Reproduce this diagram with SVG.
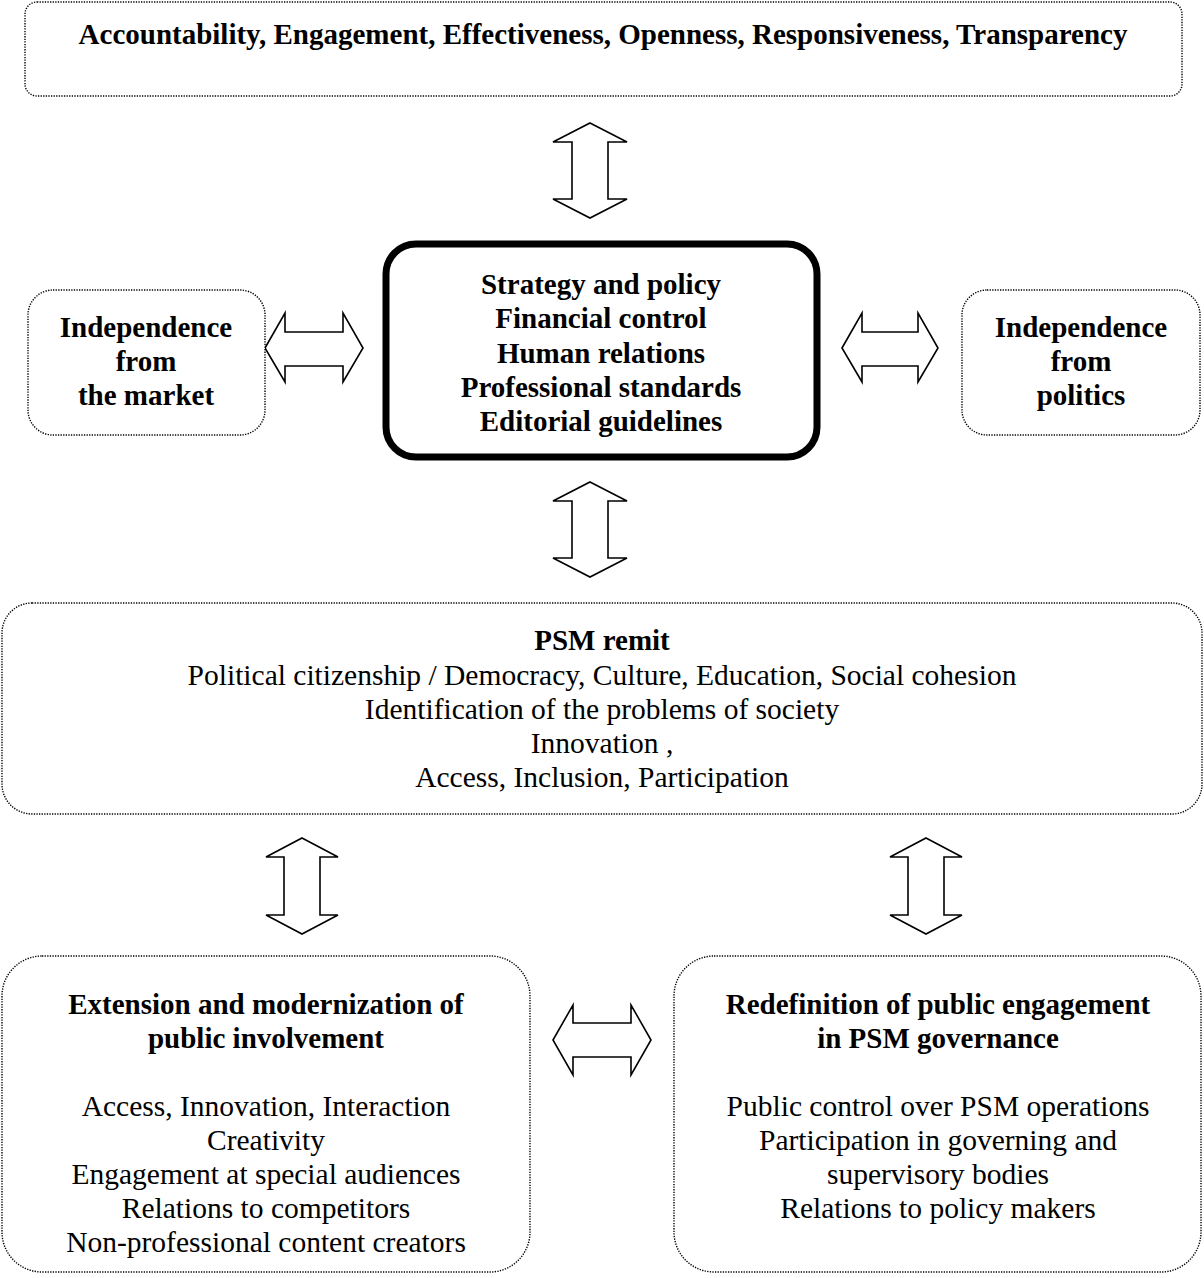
<svg xmlns="http://www.w3.org/2000/svg" width="1204" height="1278" viewBox="0 0 1204 1278">
<style>
.box{fill:#fff;stroke:#000;stroke-width:1.4;stroke-dasharray:1.3 1.3}
.main{fill:#fff;stroke:#000;stroke-width:7}
.arr{fill:#fff;stroke:#000;stroke-width:1.6;stroke-linejoin:miter}
text{font-family:"Liberation Serif","Times New Roman",serif;font-size:29.5px;fill:#000;text-anchor:middle}
.b{font-weight:bold;font-size:29px}
</style>
<rect width="1204" height="1278" fill="#fff"/>
<g id="connectors">
<polygon class="arr" points="590,123 627,142 608,142 608,199 627,199 590,218 553,199 572,199 572,142 553,142"/>
<polygon class="arr" points="590,482 627,501 608,501 608,558 627,558 590,577 553,558 572,558 572,501 553,501"/>
<polygon class="arr" points="302,838 338,857 320,857 320,915 338,915 302,934 266,915 284,915 284,857 266,857"/>
<polygon class="arr" points="926,838 962,857 944,857 944,915 962,915 926,934 890,915 908,915 908,857 890,857"/>
<polygon class="arr" points="265,348 285,313 285,332 343,332 343,313 363,348 343,382 343,366 285,366 285,382"/>
<polygon class="arr" points="842,348 862,313 862,332 918,332 918,313 938,348 918,382 918,366 862,366 862,382"/>
<polygon class="arr" points="553,1040 573,1005 573,1023 631,1023 631,1005 651,1040 631,1075 631,1057 573,1057 573,1075"/>
</g>
<g id="values">
<rect class="box" x="25" y="2" width="1157" height="94" rx="12"/>
<text class="b" x="603" y="44">Accountability, Engagement, Effectiveness, Openness, Responsiveness, Transparency</text>
</g>
<g id="core">
<rect class="main" x="386" y="244" width="431" height="213" rx="30"/>
<text class="b" x="601" y="294">Strategy and policy</text>
<text class="b" x="601" y="328">Financial control</text>
<text class="b" x="601" y="363">Human relations</text>
<text class="b" x="601" y="397">Professional standards</text>
<text class="b" x="601" y="431">Editorial guidelines</text>
</g>
<g id="market">
<rect class="box" x="28" y="290" width="237" height="145" rx="25"/>
<text class="b" x="146" y="337">Independence</text>
<text class="b" x="146" y="371">from</text>
<text class="b" x="146" y="405">the market</text>
</g>
<g id="politics">
<rect class="box" x="962" y="290" width="238" height="145" rx="25"/>
<text class="b" x="1081" y="337">Independence</text>
<text class="b" x="1081" y="371">from</text>
<text class="b" x="1081" y="405">politics</text>
</g>
<g id="remit">
<rect class="box" x="2" y="603" width="1200" height="211" rx="30"/>
<text class="b" x="602" y="650">PSM remit</text>
<text x="602" y="685">Political citizenship / Democracy, Culture, Education, Social cohesion</text>
<text x="602" y="719">Identification of the problems of society</text>
<text x="602" y="753">Innovation ,</text>
<text x="602" y="787">Access, Inclusion, Participation</text>
</g>
<g id="involvement">
<rect class="box" x="2" y="956" width="528" height="316" rx="40"/>
<text class="b" x="266" y="1014">Extension and modernization of</text>
<text class="b" x="266" y="1048">public involvement</text>
<text x="266" y="1116">Access, Innovation, Interaction</text>
<text x="266" y="1150">Creativity</text>
<text x="266" y="1184">Engagement at special audiences</text>
<text x="266" y="1218">Relations to competitors</text>
<text x="266" y="1252">Non-professional content creators</text>
</g>
<g id="governance">
<rect class="box" x="674" y="956" width="527" height="316" rx="40"/>
<text class="b" x="938" y="1014">Redefinition of public engagement</text>
<text class="b" x="938" y="1048">in PSM governance</text>
<text x="938" y="1116">Public control over PSM operations</text>
<text x="938" y="1150">Participation in governing and</text>
<text x="938" y="1184">supervisory bodies</text>
<text x="938" y="1218">Relations to policy makers</text>
</g>
</svg>
